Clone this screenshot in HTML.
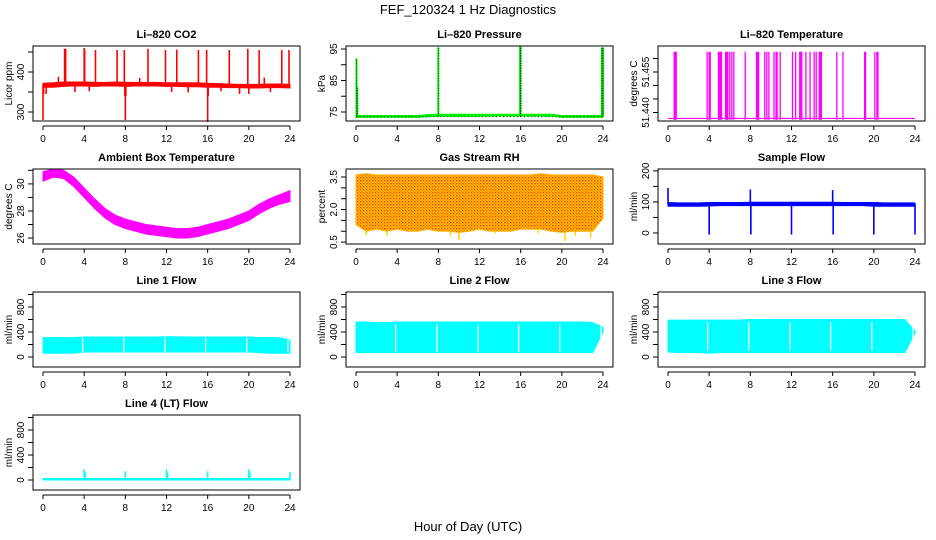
<!DOCTYPE html>
<html><head><meta charset="utf-8"><style>
html,body{margin:0;padding:0;background:#fff}
svg{display:block;font-family:"Liberation Sans",Arial,sans-serif}
</style></head><body>
<svg id="chart" width="936" height="540" viewBox="0 0 936 540" xmlns="http://www.w3.org/2000/svg">
<defs>
<pattern id="rhdots" width="3" height="3" patternUnits="userSpaceOnUse"><rect width="3" height="3" fill="#ffd700"/><rect x="0" y="0" width="1.4" height="1.4" fill="#ff2a00"/><rect x="1.5" y="1.5" width="1.4" height="1.4" fill="#ff6a00"/></pattern>
</defs>
<text x="468" y="14" text-anchor="middle" font-size="13">FEF_120324  1 Hz Diagnostics</text>
<text x="468" y="531" text-anchor="middle" font-size="13">Hour of Day (UTC)</text>
</svg>
<script>
// ---- data ----
const hours = [0,1,2,3,4,5,6,7,8,9,10,11,12,13,14,15,16,17,18,19,20,21,22,23,24];
const xTicks = [0,4,8,12,16,20,24];
// CO2
const co2Lo = [362,362,364,365,365,364,365,365,364,365,365,365,364,364,363,363,362,362,361,361,360,360,361,361,360];
const co2Hi = [372,373,375,375,375,374,374,375,374,374,374,374,373,373,373,373,372,371,370,369,369,369,370,370,369];
const co2SpikeT = [0,0.05,2.1,2.2,4.0,4.05,5.1,7.2,7.9,7.95,8.0,8.05,10.2,11.9,13.0,15.1,15.9,16.0,16.05,18.1,19.9,20.0,21.0,23.2,23.9,1.5,3.1,9.4,12.5,17.3,21.5,22.1,0.3,4.5,14.1,19.1];
const co2SpikeV = [280,345,458,458,460,455,455,455,455,340,280,340,458,455,456,455,455,275,340,455,458,345,455,455,455,388,350,385,350,352,386,350,345,352,349,345];
// pressure
const presLo = [73.3,73.3,73.3,73.3,73.3,73.3,73.3,73.5,73.6,73.6,73.6,73.6,73.6,73.7,73.7,73.7,73.7,73.7,73.7,73.6,73.3,73.3,73.3,73.3,73.3];
const presHi = [73.9,73.9,73.9,73.9,73.9,73.9,73.9,74.2,74.3,74.3,74.3,74.3,74.3,74.3,74.3,74.3,74.3,74.3,74.3,74.3,73.9,73.9,73.9,73.9,73.9];
const presSpikeT = [0.05,0.12,8.0,15.95,16.0,23.9,24.0];
const presSpikeV = [92,83,95.5,96,96,95.5,95.5];
// Li-820 temperature
const ltBase = 51.4378;
const ltSpikeT = [0.6,0.7,0.8,3.8,4.0,4.1,4.9,5.0,5.1,5.2,5.6,5.7,5.8,6.0,6.2,6.4,7.5,8.6,8.7,8.8,9.4,9.6,9.8,10.3,10.5,10.6,10.9,12.1,12.4,12.8,12.9,13.0,13.4,13.8,14.2,14.4,14.7,14.8,14.9,16.4,17.0,19.1,19.2,20.1,20.3,20.4];
const ltSpikeV = 51.4625;
// ambient box temperature
const ambLo = [30.2,30.5,30.4,29.8,29.0,28.2,27.5,27.0,26.7,26.5,26.3,26.2,26.1,26.0,26.0,26.1,26.3,26.5,26.7,27.0,27.3,27.8,28.2,28.5,28.7];
const ambHi = [30.9,31.1,31.0,30.5,29.7,28.9,28.2,27.7,27.4,27.2,27.0,26.9,26.8,26.7,26.7,26.8,27.0,27.2,27.4,27.7,28.0,28.5,28.9,29.2,29.5];
// gas stream RH
const rhLo = [1.3,1.0,1.1,1.0,1.1,1.0,1.0,1.1,1.0,1.0,0.95,1.0,1.1,1.0,1.0,1.0,1.1,1.1,1.1,1.0,0.95,1.0,1.0,1.0,1.6];
const rhHi = [3.6,3.65,3.6,3.6,3.6,3.6,3.6,3.6,3.6,3.6,3.6,3.6,3.6,3.6,3.6,3.6,3.6,3.6,3.65,3.6,3.6,3.6,3.6,3.6,3.5];
const rhDipT = [1.0,3.0,5.5,7.4,9.2,10.0,13.5,17.7,20.3,21.3,22.8];
const rhDipV = [0.8,0.8,1.0,1.0,0.8,0.6,0.9,0.9,0.55,0.8,0.7];
// sample flow
const sfLo = [86,86,86,86,87,88,88,88,88,88,88,88,88,88,88,88,88,88,88,88,86,86,86,86,86];
const sfHi = [98,97,97,97,98,98,98,98,99,99,99,99,99,99,99,99,99,98,98,98,98,97,97,97,97];
const sfSpikeT = [0,4,8,8.05,12,16,16.05,20,24];
const sfSpikeV = [145,-5,140,-5,-5,138,-5,-5,-5];
// line flows
const gapT = [3.85,7.85,11.85,15.8,19.8,23.8];
const l1Lo = [60,60,60,60,80,80,80,80,80,80,80,80,80,80,80,80,80,80,80,80,80,70,60,60,60];
const l1Hi = [310,310,310,310,320,320,320,320,320,320,320,320,325,325,320,320,320,320,320,320,320,310,310,310,270];
const l2Lo = [70,70,70,70,70,70,70,70,70,70,70,70,70,70,70,70,70,70,70,70,70,70,70,70,400];
const l2Hi = [560,560,550,550,560,560,560,560,560,560,560,560,560,560,560,560,560,560,560,560,560,560,560,550,480];
const l3Lo = [80,70,70,70,60,70,70,70,70,70,70,70,70,70,70,70,70,70,70,70,70,70,70,70,380];
const l3Hi = [590,590,590,590,590,590,590,590,600,600,600,600,600,600,600,600,600,600,600,600,600,600,600,600,420];
const l4Lo = [0,0,0,0,0,0,0,0,0,0,0,0,0,0,0,0,0,0,0,0,0,0,0,0,0];
const l4Hi = [25,25,25,25,25,25,25,25,25,25,25,25,25,25,25,25,25,25,25,25,25,25,25,25,25];
const l4SpikeT = [4.0,4.1,8.0,12.0,12.1,16.0,20.0,20.1,24.0];
const l4SpikeV = [170,120,140,170,120,140,170,120,130];

// ---- layout ----
const svg = document.getElementById('chart');
const NS = 'http://www.w3.org/2000/svg';
const colX = [33,346,658], rowY = [46,169,292,415], PW = 267, PH = 75;
function mk(tag, attrs, parent){ const e=document.createElementNS(NS,tag); for(const k in attrs) e.setAttribute(k,attrs[k]); (parent||svg).appendChild(e); return e; }

function panel(name, title, ylab, col, row, ymin, ymax, yTicks, yLabels){
  const L=colX[col], T=rowY[row];
  const g = mk('g',{});
  
  
  const sx = h => L+10+h*(247/24);
  const sy = v => T+PH-(v-ymin)/(ymax-ymin)*PH;
  const t = mk('text',{x:L+PW/2,y:T-8,'text-anchor':'middle','font-size':11,'font-weight':'bold'},g);
  t.textContent = title;
  
  
  const xa = mk('g',{stroke:'#000','stroke-width':1},g);
  
  
  mk('line',{x1:sx(0),x2:sx(24),y1:T+PH+5,y2:T+PH+5},xa);
  xTicks.forEach(v=>{
    mk('line',{x1:sx(v),x2:sx(v),y1:T+PH+5,y2:T+PH+9},xa);
    const l = mk('text',{x:sx(v),y:T+PH+21,'text-anchor':'middle','font-size':10,stroke:'none'},g);
    l.textContent = v;
    
    
  });
  const ya = mk('g',{stroke:'#000','stroke-width':1},g);
  
  
  yTicks.forEach(v=>{ mk('line',{x1:L-5,x2:L,y1:sy(v),y2:sy(v)},ya); });
  yLabels.forEach(v=>{
    const y=sy(v[0]);
    const l = mk('text',{x:L-9,y:y,'text-anchor':'middle','font-size':10,transform:`rotate(-90 ${L-9} ${y})`},g);
    l.textContent = v[1];
    
    
  });
  const yl = mk('text',{x:L-21,y:T+PH/2,'text-anchor':'middle','font-size':10,transform:`rotate(-90 ${L-21} ${T+PH/2})`},g);
  yl.textContent = ylab;
  
  
  const plot = mk('g',{},g);
  
  
  const box = mk('rect',{x:L,y:T,width:PW,height:PH,fill:'none',stroke:'#000','stroke-width':1},g);
  
  
  return {sx,sy,plot};
}
function band(p, lo, hi, color){
  let pts=[];
  hours.forEach((h,i)=>pts.push(p.sx(h)+','+p.sy(hi[i])));
  for(let i=hours.length-1;i>=0;i--) pts.push(p.sx(hours[i])+','+p.sy(lo[i]));
  const e = mk('polygon',{points:pts.join(' '),fill:color,stroke:color,'stroke-width':1},p.plot);
  
  
  return e;
}
function spikes(p, ts, vs, base, color, w, dash){
  ts.forEach((t,i)=>{
    const v = Array.isArray(vs)?vs[i]:vs;
    const e = mk('line',{x1:p.sx(t),x2:p.sx(t),y1:p.sy(base),y2:p.sy(v),stroke:color,'stroke-width':w||1.5},p.plot);
    if(dash) e.setAttribute('stroke-dasharray',dash);
    
    
  });
}
function gaps(p, ts, lo, hi){
  ts.forEach(t=>{
    const e = mk('line',{x1:p.sx(t),x2:p.sx(t),y1:p.sy(hi),y2:p.sy(lo),stroke:'#fff','stroke-width':1.3},p.plot);
    
    
  });
}
const flowTicks=[0,200,400,600,800,1000], flowLabels=[[0,'0'],[400,'400'],[800,'800']];

let p = panel('co2','Li–820 CO2','Licor ppm',0,0,277.5,465,[300,350,400,450],[[300,'300'],[400,'400']]);
band(p,co2Lo,co2Hi,'#ff0000'); spikes(p,co2SpikeT,co2SpikeV,368,'#ff0000',1.6);

p = panel('pressure','Li–820 Pressure','kPa',1,0,72.14,95.95,[75,80,85,90,95],[[75,'75'],[85,'85'],[95,'95']]);
band(p,presLo,presHi,'#00ee00'); spikes(p,presSpikeT,presSpikeV,73.6,'#00ee00',2);
spikes(p,presSpikeT,presSpikeV,73.6,'#000',0.7,'1 1.5');
{ const e=mk('line',{x1:p.sx(0),x2:p.sx(24),y1:p.sy(73.5),y2:p.sy(73.5),stroke:'#000','stroke-width':0.7,'stroke-dasharray':'1 2.5'},p.plot);
    }

p = panel('li820-temp','Li–820 Temperature','degrees C',2,0,51.43685,51.46463,[51.440,51.445,51.450,51.455,51.460],[[51.440,'51.440'],[51.455,'51.455']]);
{ const e=mk('line',{x1:p.sx(0),x2:p.sx(24),y1:p.sy(ltBase),y2:p.sy(ltBase),stroke:'#ff00ff','stroke-width':1.2},p.plot);
    }
spikes(p,ltSpikeT,ltSpikeV,ltBase-0.0005,'#ff00ff',1.3);

p = panel('ambient-temp','Ambient Box Temperature','degrees C',0,1,25.56,31.1,[26,27,28,29,30,31],[[26,'26'],[28,'28'],[30,'30']]);
band(p,ambLo,ambHi,'#ff00ff');

p = panel('gas-rh','Gas Stream RH','percent',1,1,0.4124,3.869,[0.5,1,1.5,2,2.5,3,3.5],[[0.5,'0.5'],[2.0,'2.0'],[3.5,'3.5']]);
spikes(p,rhDipT,rhDipV,2,'#ffd700',1.5);
band(p,rhLo,rhHi,'url(#rhdots)').setAttribute('stroke','#ffb000');

p = panel('sample-flow','Sample Flow','ml/min',2,1,-35.5,206,[0,50,100,150,200],[[0,'0'],[100,'100'],[200,'200']]);
band(p,sfLo,sfHi,'#0000ff'); spikes(p,sfSpikeT,sfSpikeV,93,'#0000ff',1.6);

p = panel('line1-flow','Line 1 Flow','ml/min',0,2,-160,1040,flowTicks,flowLabels);
band(p,l1Lo,l1Hi,'#00ffff'); gaps(p,gapT,80,310);
p = panel('line2-flow','Line 2 Flow','ml/min',1,2,-160,1040,flowTicks,flowLabels);
band(p,l2Lo,l2Hi,'#00ffff'); gaps(p,gapT,80,520);
p = panel('line3-flow','Line 3 Flow','ml/min',2,2,-160,1040,flowTicks,flowLabels);
band(p,l3Lo,l3Hi,'#00ffff'); gaps(p,gapT,100,560);
p = panel('line4-flow','Line 4 (LT) Flow','ml/min',0,3,-160,1040,flowTicks,flowLabels);
band(p,l4Lo,l4Hi,'#00ffff'); spikes(p,l4SpikeT,l4SpikeV,10,'#00ffff',1.5);
</script>
</body></html>
